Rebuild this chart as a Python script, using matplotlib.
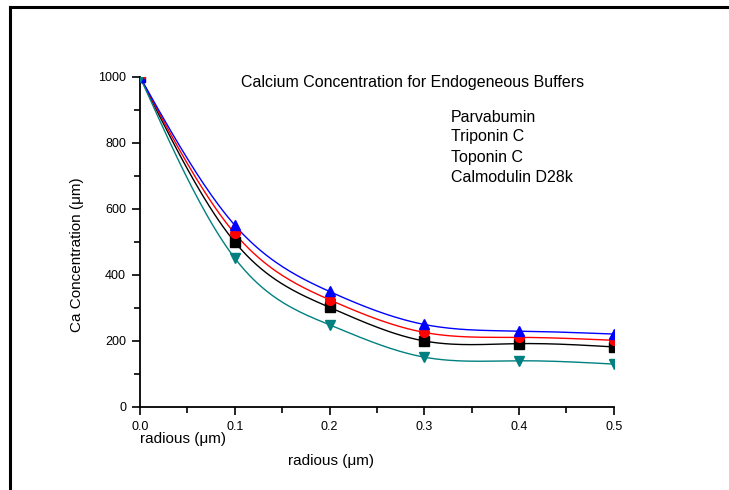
import numpy as np
import matplotlib
matplotlib.use("Agg")
import matplotlib.pyplot as plt
from matplotlib.lines import Line2D

plt.rcParams['font.family'] = ['Liberation Sans', 'DejaVu Sans']

radius = [0.0, 0.1, 0.2, 0.3, 0.4, 0.5]
parvalbumin = [1000, 500, 302, 200, 192, 182]
triponin = [1000, 526, 325, 226, 211, 202]
toponin = [1000, 551, 350, 250, 230, 221]
calmodulin = [1000, 451, 249, 151, 140, 130]
labels = ["Parvabumin", "Triponin C", "Toponin C", "Calmodulin D28k"]


def spline(x, y, n=200):
    # natural cubic spline, only used to draw the smooth connecting line
    x = np.asarray(x, float)
    y = np.asarray(y, float)
    k = len(x)
    h = np.diff(x)
    A = np.zeros((k, k))
    b = np.zeros(k)
    A[0, 0] = A[-1, -1] = 1
    for i in range(1, k - 1):
        A[i, i - 1] = h[i - 1]
        A[i, i] = 2 * (h[i - 1] + h[i])
        A[i, i + 1] = h[i]
        b[i] = 3 * ((y[i + 1] - y[i]) / h[i] - (y[i] - y[i - 1]) / h[i - 1])
    c = np.linalg.solve(A, b)
    xs = np.linspace(x[0], x[-1], n)
    idx = np.clip(np.searchsorted(x, xs) - 1, 0, k - 2)
    dx = xs - x[idx]
    hi = h[idx]
    bb = (y[idx + 1] - y[idx]) / hi - hi * (2 * c[idx] + c[idx + 1]) / 3
    dd = (c[idx + 1] - c[idx]) / (3 * hi)
    ys = y[idx] + bb * dx + c[idx] * dx ** 2 + dd * dx ** 3
    return xs, ys


fig = plt.figure(figsize=(7.29, 4.90), dpi=100)
ax = fig.add_axes([0.192, 0.1694, 0.650, 0.6735])

series = [
    (parvalbumin, "black", "s"),
    (triponin, "red", "o"),
    (toponin, "blue", "^"),
    (calmodulin, "#008080", "v"),
]
for vals, col, mk in series:
    xs, ys = spline(radius, vals)
    ax.plot(xs, ys, color=col, lw=1.0, zorder=2)
    ax.plot(radius, vals, ls="none", marker=mk, color=col, ms=7, zorder=3)

ax.set_xlim(0, 0.5)
ax.set_ylim(0, 1000)
ax.set_xticks([0, 0.1, 0.2, 0.3, 0.4, 0.5])
ax.set_xticks(np.arange(0.05, 0.5, 0.1), minor=True)
ax.set_xticklabels(["0.0", "0.1", "0.2", "0.3", "0.4", "0.5"])
ax.set_yticks([0, 200, 400, 600, 800, 1000])
ax.set_yticks([100, 300, 500, 700, 900], minor=True)
for s in ["top", "right"]:
    ax.spines[s].set_visible(False)
for s in ["left", "bottom"]:
    ax.spines[s].set_linewidth(1.3)
ax.tick_params(which="major", direction="out", length=6, width=1.2,
               labelsize=9, pad=4)
ax.tick_params(which="minor", direction="out", length=4, width=1.2)

fig.text(77 / 729, 1 - 255 / 490, "Ca Concentration (μm)", fontsize=11,
         rotation=90, ha="center", va="center")
fig.text(140 / 729, 1 - 439 / 490, "radious (μm)", fontsize=11,
         ha="left", va="center")
fig.text(331 / 729, 1 - 461 / 490, "radious (μm)", fontsize=11,
         ha="center", va="center")

fig.text(413 / 729, 1 - 82 / 490,
         "Calcium Concentration for Endogeneous Buffers", fontsize=11.5,
         ha="center", va="center")
for i, lab in enumerate(labels):
    fig.text(451 / 729, 1 - (117 + 20 * i) / 490, lab, fontsize=11.5,
             ha="left", va="center")

# outer frame (top and left edges)
fig.add_artist(Line2D([10 / 729, 1], [1 - 7 / 490, 1 - 7 / 490],
                      transform=fig.transFigure, color="black", lw=2.2))
fig.add_artist(Line2D([10 / 729, 10 / 729], [1 - 7 / 490, 0],
                      transform=fig.transFigure, color="black", lw=2.2))

fig.savefig("out.png", dpi=100)
